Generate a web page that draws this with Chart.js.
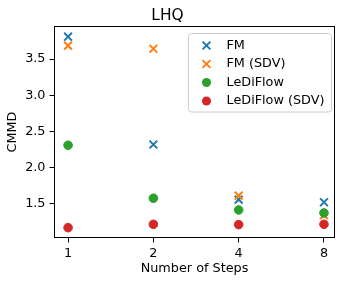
<!DOCTYPE html>
<html>
<head>
<meta charset="utf-8">
<script src="https://cdn.jsdelivr.net/npm/chart.js@4/dist/chart.umd.min.js"></script>
<style>
  html, body { margin: 0; padding: 0; background: #fff; }
  #wrap { width: 346px; height: 285px; }
</style>
</head>
<body>
<div id="wrap"><canvas id="c" width="346" height="285"></canvas></div>
<script>
const steps = [1, 2, 4, 8];
const fm = [3.808, 2.32, 1.56, 1.523];
const fmSdv = [3.684, 3.642, 1.615, 1.345];
const lediflow = [2.31, 1.579, 1.417, 1.376];
const lediflowSdv = [1.173, 1.219, 1.215, 1.219];
const yTicks = [1.5, 2.0, 2.5, 3.0, 3.5];
const seriesNames = ['FM', 'FM (SDV)', 'LeDiFlow', 'LeDiFlow (SDV)'];

const FONT = "'DejaVu Sans', sans-serif";
const FS = 12.8;
const colors = ['#1f77b4', '#ff7f0e', '#2ca02c', '#d62728'];
const styles = ['crossRot', 'crossRot', 'circle', 'circle'];
const allSeries = [fm, fmSdv, lediflow, lediflowSdv];

const datasets = allSeries.map((vals, i) => ({
  label: seriesNames[i],
  data: steps.map((s, j) => ({ x: s, y: vals[j] })),
  pointStyle: styles[i],
  pointRadius: styles[i] === 'crossRot' ? 5.5 : 4.3,
  pointHoverRadius: styles[i] === 'crossRot' ? 5.5 : 4.3,
  borderWidth: styles[i] === 'crossRot' ? 2 : 1,
  borderColor: colors[i],
  backgroundColor: colors[i],
  showLine: false,
  order: 4 - i
}));

const framePlugin = {
  id: 'frame',
  afterDatasetsDraw(chart) {
    const { ctx, chartArea: a } = chart;
    ctx.save();
    ctx.strokeStyle = '#000';
    ctx.lineWidth = 1;
    ctx.strokeRect(Math.round(a.left) + 0.5, Math.round(a.top) + 0.5,
      Math.round(a.right - a.left) - 1, Math.round(a.bottom - a.top) - 1);

    // legend
    const bx = 188.5, by = 33.5, bw = 143, bh = 78.5, r = 3;
    ctx.beginPath();
    ctx.moveTo(bx + r, by);
    ctx.lineTo(bx + bw - r, by);
    ctx.arcTo(bx + bw, by, bx + bw, by + r, r);
    ctx.lineTo(bx + bw, by + bh - r);
    ctx.arcTo(bx + bw, by + bh, bx + bw - r, by + bh, r);
    ctx.lineTo(bx + r, by + bh);
    ctx.arcTo(bx, by + bh, bx, by + bh - r, r);
    ctx.lineTo(bx, by + r);
    ctx.arcTo(bx, by, bx + r, by, r);
    ctx.closePath();
    ctx.fillStyle = 'rgba(255,255,255,0.8)';
    ctx.fill();
    ctx.strokeStyle = '#cccccc';
    ctx.stroke();

    chart.data.datasets.forEach((ds, i) => {
      const y = 45.5 + i * 18.5;
      const x = 206.5;
      ctx.fillStyle = ds.backgroundColor;
      ctx.strokeStyle = ds.borderColor;
      if (ds.pointStyle === 'crossRot') {
        const d = 3.9;
        ctx.lineWidth = 2;
        ctx.beginPath();
        ctx.moveTo(x - d, y - d); ctx.lineTo(x + d, y + d);
        ctx.moveTo(x - d, y + d); ctx.lineTo(x + d, y - d);
        ctx.stroke();
      } else {
        ctx.beginPath();
        ctx.arc(x, y, 4.5, 0, Math.PI * 2);
        ctx.fill();
      }
      ctx.fillStyle = '#000';
      ctx.font = FS + 'px ' + FONT;
      ctx.textBaseline = 'middle';
      ctx.textAlign = 'left';
      ctx.fillText(ds.label, 226.5, y);
    });
    ctx.restore();
  }
};

new Chart(document.getElementById('c'), {
  type: 'scatter',
  data: { datasets },
  options: {
    responsive: false,
    animation: false,
    devicePixelRatio: 1,
    layout: { padding: { left: 0, right: 11, top: 0, bottom: 0 } },
    plugins: {
      legend: { display: false },
      tooltip: { enabled: false },
      title: {
        display: true,
        text: 'LHQ',
        color: '#000',
        font: { family: FONT, size: 15.4, weight: 'normal' },
        padding: { top: 6.8, bottom: 0.7 }
      }
    },
    scales: {
      x: {
        type: 'logarithmic',
        min: 0.892,
        max: 8.75,
        afterBuildTicks: (s) => { s.ticks = steps.map(v => ({ value: v })); },
        afterFit: (s) => { s.height = 47; },
        ticks: {
          color: '#000',
          font: { family: FONT, size: FS },
          padding: 3,
          maxRotation: 0,
          autoSkip: false,
          callback: (v) => String(v)
        },
        grid: { display: true, drawOnChartArea: false, drawTicks: true, tickLength: 4.5, tickColor: '#000', color: '#000' },
        border: { display: false },
        title: {
          display: true,
          text: 'Number of Steps',
          color: '#000',
          font: { family: FONT, size: FS },
          padding: { top: 0, bottom: 9 }
        }
      },
      y: {
        type: 'linear',
        min: 1.03,
        max: 3.956,
        afterBuildTicks: (s) => { s.ticks = yTicks.map(v => ({ value: v })); },
        afterFit: (s) => { s.width = 54; },
        ticks: {
          color: '#000',
          font: { family: FONT, size: FS },
          padding: 4,
          callback: (v) => v.toFixed(1)
        },
        grid: { display: true, drawOnChartArea: false, drawTicks: true, tickLength: 4.5, tickColor: '#000', color: '#000' },
        border: { display: false },
        title: {
          display: true,
          text: 'CMMD',
          color: '#000',
          font: { family: FONT, size: FS },
          padding: { top: 5.3, bottom: 0 }
        }
      }
    }
  },
  plugins: [framePlugin]
});
</script>
</body>
</html>
